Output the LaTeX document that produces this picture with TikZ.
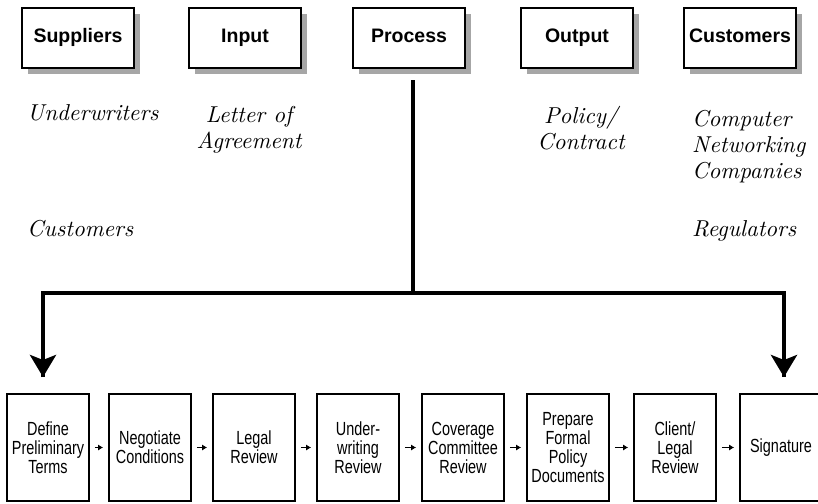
\documentclass[tikz,border=0pt]{standalone}
\usepackage{fontspec}
\usepackage{graphicx}
\newfontfamily\hvfont{Liberation Sans}
\newfontfamily\hvnarrow[FakeStretch=0.76]{Liberation Sans}
\usetikzlibrary{arrows.meta,shadows}
\newcommand{\bigit}[2][l]{\scalebox{2.15}{\itshape\fontsize{10.7}{12.3}\selectfont\begin{tabular}[t]{@{}#1@{}}#2\end{tabular}}}
\begin{document}
\begin{tikzpicture}[x=1pt,y=-1pt,
  headbox/.style={draw=black,line width=1.6pt,fill=white,minimum width=112pt,minimum height=60pt,inner sep=0pt,
    text height=14.5pt,text depth=4.5pt,
    font=\hvfont\bfseries\fontsize{19.5}{22}\selectfont,
    drop shadow={shadow xshift=6pt,shadow yshift=-6pt,fill=black!35,opacity=1}},
  stepbox/.style={draw=black,line width=1.6pt,fill=white,minimum width=82pt,minimum height=107pt,inner sep=0pt,
    align=center,font=\hvnarrow\fontsize{19}{19}\selectfont},
  itext/.style={inner sep=0pt},
  bigline/.style={line width=4.5pt},
  bigarrow/.style={line width=4.5pt,-{Stealth[length=22pt,width=26pt,inset=5pt]}},
  smallarrow/.style={line width=1.6pt,-{Latex[length=5pt,width=6pt]}}
]
\useasboundingbox (0,0) rectangle (818,503);

% header boxes
\node[headbox] (sup) at (78,38) {Suppliers};
\node[headbox] (inp) at (245,38) {Input};
\node[headbox] (pro) at (409,38) {Process};
\node[headbox] (out) at (577,38) {Output};
\node[headbox] (cus) at (740,38) {Customers};

% italic texts
\node[itext,anchor=base west] (t1) at (27,120) {\bigit{Underwriters}};
\node[itext,anchor=base west] (t2) at (27,236) {\bigit{Customers}};
\node[itext,anchor=base] (t3) at (249,122) {\bigit[c]{Letter of\\Agreement}};
\node[itext,anchor=base] (t4) at (581,123) {\bigit[c]{Policy/\\Contract}};
\node[itext,anchor=base west] (t5) at (692,126) {\bigit{Computer\\Networking\\Companies}};
\node[itext,anchor=base west] (t6) at (692,236) {\bigit{Regulators}};

% process steps
\node[stepbox] (s1) at (48,447.5) {Define\\Preliminary\\Terms};
\node[stepbox] (s2) at (150,447.5) {Negotiate\\Conditions};
\node[stepbox] (s3) at (254,447.5) {Legal\\Review};
\node[stepbox] (s4) at (358,447.5) {Under-\\writing\\Review};
\node[stepbox] (s5) at (463,447.5) {Coverage\\Committee\\Review};
\node[stepbox] (s6) at (568,447.5) {Prepare\\Formal\\Policy\\Documents};
\node[stepbox] (s7) at (675,447.5) {Client/\\Legal\\Review};
\node[stepbox] (s8) at (781,447.5) {Signature};

% connectors
\coordinate (ptop) at (413,80);
\coordinate (pj) at (413,293);
\coordinate (lj) at (43,293);
\coordinate (rj) at (784,293);
\coordinate (lt) at (43,377);
\coordinate (rt) at (784,377);
\draw[bigline] (ptop) -- (pj);
\draw[bigline,line join=miter] (lt) -- (lj) -- (rj) -- (rt);
\draw[bigarrow] (lj) -- (lt);
\draw[bigarrow] (rj) -- (rt);

\foreach \a/\b in {s1/s2,s2/s3,s3/s4,s4/s5,s5/s6,s6/s7,s7/s8}{
  \draw[smallarrow] ([xshift=5pt]\a.east) -- ([xshift=-5pt]\b.west);
}
\end{tikzpicture}
\end{document}
